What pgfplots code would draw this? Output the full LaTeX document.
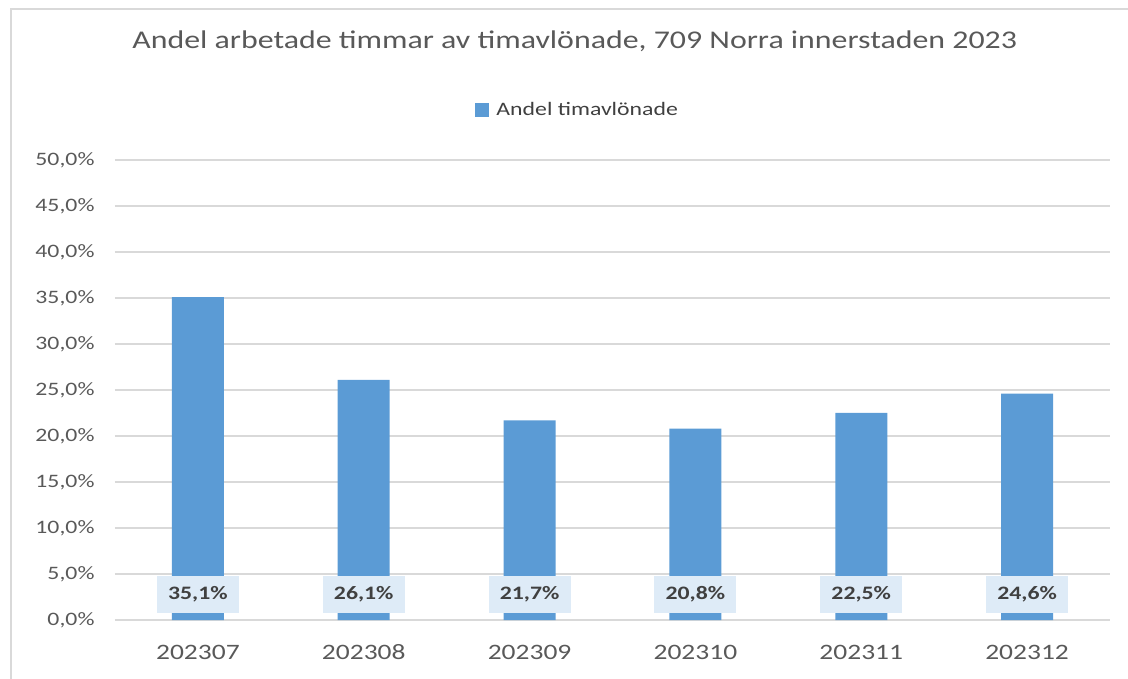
\documentclass[border=0pt]{standalone}
\usepackage{fontspec}
\setmainfont{Carlito}[FakeStretch=1.25]
\usepackage{pgfplots}
\pgfplotsset{compat=1.18}
\definecolor{barblue}{HTML}{5B9BD5}
\definecolor{lblfill}{HTML}{DEEBF7}
\definecolor{txtgray}{HTML}{595959}
\definecolor{lbltxt}{HTML}{404040}
\definecolor{gridgray}{HTML}{D9D9D9}

\begin{document}
\begin{tikzpicture}
\path[use as bounding box] (-115pt,-58pt) rectangle (1013pt,620pt);
\draw[gridgray, line width=1.2pt] (-104pt,-60pt) -- (-104pt,611pt) -- (1015pt,611pt);
\begin{axis}[
  at={(0,0)}, anchor=south west,
  scale only axis, width=995pt, height=460pt,
  ybar, bar width=52pt,
  xmin=-0.5, xmax=5.5, ymin=0, ymax=50,
  xtick=data,
  xticklabels={202307,202308,202309,202310,202311,202312},
  ytick={0,5,...,50},
  yticklabel={\pgfmathprintnumber[fixed,fixed zerofill,precision=1,use comma]{\tick}\%},
  /pgf/number format/assume math mode=true,
  axis line style={draw=none},
  major tick length=0pt,
  ymajorgrids, major grid style={gridgray, line width=1.2pt},
  yticklabel style={font=\fontsize{19}{22}\selectfont, text=txtgray, xshift=-17pt},
  xticklabel style={font=\fontsize{22}{24}\selectfont, text=txtgray,
    anchor=north, text height=15pt, text depth=0pt, yshift=-21pt},
  title={Andel arbetade timmar av timavlönade, 709 Norra innerstaden 2023},
  title style={at={(0.462,1.246)}, anchor=center, font=\fontsize{25.5}{28}\selectfont, text=txtgray},
  legend style={at={(0.465,1.109)}, anchor=center, draw=none, fill=none,
    font=\fontsize{19}{21}\selectfont, text=lbltxt},
  legend image code/.code={\fill[barblue] (0pt,-7pt) rectangle (14pt,7pt); \path (19pt,0pt);},
  visualization depends on={rawy \as \rawy},
  nodes near coords={\pgfmathprintnumber[fixed,fixed zerofill,precision=1,use comma]{\pgfplotspointmeta}\%},
  every node near coord/.append style={anchor=center, yshift={(2.77-\rawy)*9.2pt},
    fill=lblfill, text=lbltxt, font=\fontsize{19}{22}\selectfont\bfseries,
    minimum width=82pt, minimum height=37pt, inner sep=0pt},
]
\addplot[fill=barblue, draw=none] coordinates {(0,35.1) (1,26.1) (2,21.7) (3,20.8) (4,22.5) (5,24.6)};
\legend{Andel timavlönade}
\end{axis}
\end{tikzpicture}
\end{document}
